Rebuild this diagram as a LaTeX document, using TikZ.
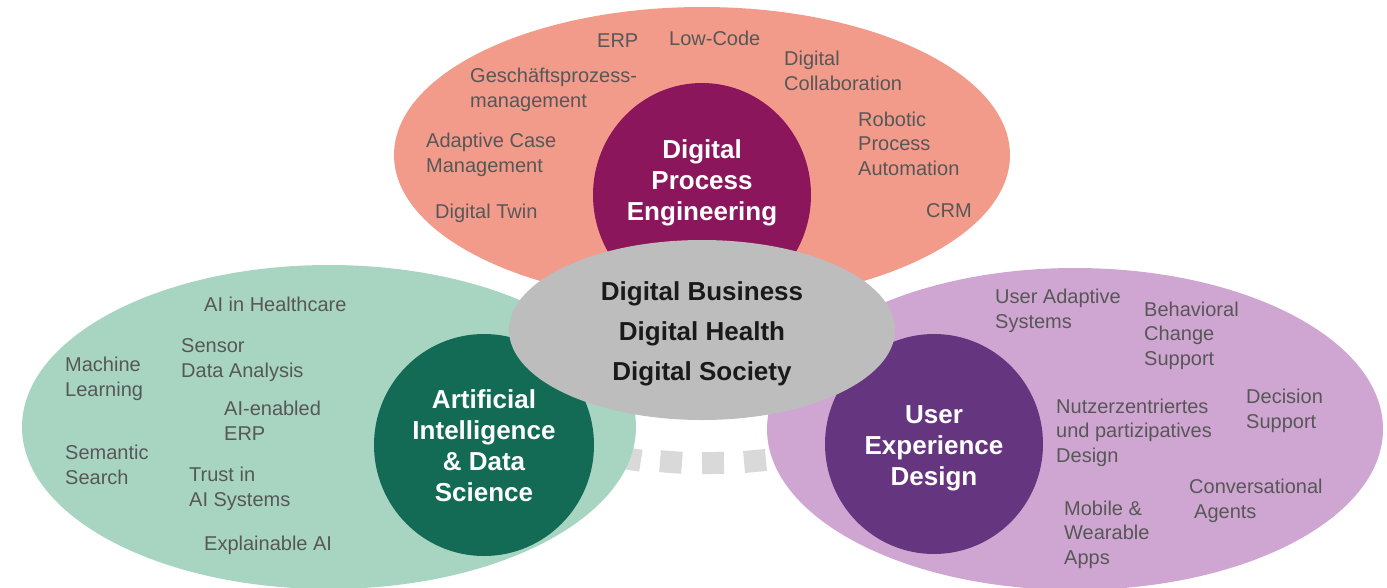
\documentclass[tikz,border=0pt]{standalone}
\usepackage{fontspec}
\setmainfont{Liberation Sans}
\definecolor{salmon}{HTML}{F29B8B}
\definecolor{mint}{HTML}{A8D5C2}
\definecolor{lilac}{HTML}{CFA6D2}
\definecolor{centergray}{HTML}{BDBDBD}
\definecolor{magenta}{HTML}{8B165C}
\definecolor{darkgreen}{HTML}{136B56}
\definecolor{darkpurple}{HTML}{66357F}
\definecolor{sqgray}{HTML}{D9D9D9}
\definecolor{txtgray}{HTML}{575757}
\definecolor{txtdark}{HTML}{1A1A1A}
\begin{document}
\begin{tikzpicture}[x=1pt,y=-1pt,
  lbl/.style={anchor=base west, align=left, inner sep=0pt, text=txtgray,
    font=\fontsize{20}{24.5}\selectfont},
  head/.style={align=center, inner sep=0pt, text=white,
    font=\bfseries\fontsize{26}{31}\selectfont},
  core/.style={align=center, inner sep=0pt, text=txtdark,
    font=\bfseries\fontsize{26}{40}\selectfont},
  sq/.style={fill=sqgray, minimum size=22pt, inner sep=0pt, draw=none}]
\useasboundingbox (0,0) rectangle (1387,587);
% big ellipses
\fill[salmon] (702,155) ellipse [x radius=308, y radius=148];
\fill[magenta] (702,195) ellipse [x radius=109, y radius=112];
% dashed squares
\node[sq, rotate=-9] (s1) at (630,459) {};
\node[sq, rotate=-4.5] (s2) at (671,462) {};
\node[sq, rotate=0.3] (s3) at (713,463) {};
\node[sq, rotate=5.2] (s4) at (755,461) {};
\fill[mint] (329,427) ellipse [x radius=307, y radius=162];
\fill[lilac] (1075,429) ellipse [x radius=308, y radius=161];
\fill[darkgreen] (484,445) ellipse [x radius=110, y radius=111];
\fill[darkpurple] (934,444) ellipse [x radius=109, y radius=110];
\fill[centergray] (702,330) ellipse [x radius=193, y radius=90];
% headings
\node[head] (dpe) at (702,183) {Digital\\Process\\Engineering};
\node[head] (aids) at (484,445.5) {Artificial\\Intelligence\\\& Data\\Science};
\node[head] (uxd) at (934,448) {User\\Experience\\Design};
\node[core] (center) at (702,334) {Digital Business\\Digital Health\\Digital Society};
% top labels
\node[lbl] (erp) at (597,47) {ERP};
\node[lbl] (lowcode) at (669,45) {Low-Code};
\node[lbl] (dcol) at (784,90) {Digital\\Collaboration};
\node[lbl] (gpm) at (470,107) {Geschäftsprozess-\\management};
\node[lbl] (rpa) at (858,175) {Robotic\\Process\\Automation};
\node[lbl] (acm) at (426,172) {Adaptive Case\\Management};
\node[lbl] (dtwin) at (435,218) {Digital Twin};
\node[lbl] (crm) at (926,217) {CRM};
% left labels
\node[lbl] (aih) at (204,311) {AI in Healthcare};
\node[lbl] (sda) at (181,377) {Sensor\\Data Analysis};
\node[lbl] (ml) at (65,396) {Machine\\Learning};
\node[lbl] (aierp) at (224,440) {AI-enabled\\ERP};
\node[lbl] (sem) at (65,484) {Semantic\\Search};
\node[lbl] (trust) at (189,506) {Trust in\\AI Systems};
\node[lbl] (xai) at (204,550) {Explainable AI};
% right labels
\node[lbl] (uas) at (995,328) {User Adaptive\\Systems};
\node[lbl] (bcs) at (1144,365) {Behavioral\\Change\\Support};
\node[lbl] (nzd) at (1056,462) {Nutzerzentriertes\\und partizipatives\\Design};
\node[lbl] (ds) at (1246,428) {Decision\\Support};
\node[lbl] (ca) at (1189,518) {Conversational\\\hspace*{5pt}Agents};
\node[lbl] (mwa) at (1064,564) {Mobile \&\\Wearable\\Apps};
\end{tikzpicture}
\end{document}
